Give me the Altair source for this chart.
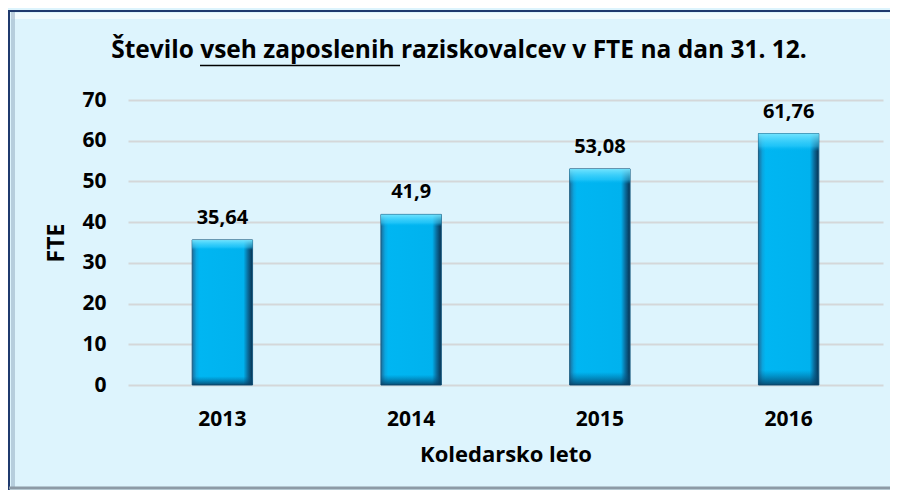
import altair as alt
import pandas as pd

years = ["2013", "2014", "2015", "2016"]
fte = [35.64, 41.9, 53.08, 61.76]
labels = ["35,64", "41,9", "53,08", "61,76"]

title_text = "Število vseh zaposlenih raziskovalcev v FTE na dan 31. 12."

df = pd.DataFrame({"leto": years, "fte": fte, "oznaka": labels})

FONT = "Open Sans"
BG = "#DDF4FD"

x_enc = alt.X("leto:N", title="Koledarsko leto", sort=years,
              scale=alt.Scale(paddingInner=0.68, paddingOuter=0.34),
              axis=alt.Axis(labelAngle=0, labelFontSize=21, labelFontWeight="bold",
                            labelPadding=23, titleFontSize=22, titleFontWeight="bold",
                            titlePadding=15, domain=False, ticks=False, grid=False,
                            labelColor="#000", titleColor="#000", labelFont=FONT, titleFont=FONT))
y_enc = alt.Y("fte:Q", title="FTE",
              scale=alt.Scale(domain=[0, 70], nice=False),
              axis=alt.Axis(values=[0, 10, 20, 30, 40, 50, 60, 70], labelFontSize=21,
                            labelFontWeight="bold", labelPadding=22, titleFontSize=23,
                            titleFontWeight="bold", titlePadding=13, domain=False, ticks=False,
                            grid=True, gridColor="#D4D7D9", gridWidth=2,
                            labelColor="#000", titleColor="#000", labelFont=FONT, titleFont=FONT))

h_grad = alt.Gradient(
    gradient="linear", x1=0, x2=1, y1=0, y2=0,
    stops=[
        alt.GradientStop(offset=0, color="#1B6E9C"),
        alt.GradientStop(offset=0.07, color="#0AA6E0"),
        alt.GradientStop(offset=0.12, color="#00B6F2"),
        alt.GradientStop(offset=0.85, color="#00B2EE"),
        alt.GradientStop(offset=0.92, color="#0A6E9E"),
        alt.GradientStop(offset=1, color="#06304F"),
    ])
v_grad = alt.Gradient(
    gradient="linear", x1=0, x2=0, y1=0, y2=1,
    stops=[
        alt.GradientStop(offset=0, color="rgba(120,230,255,0.95)"),
        alt.GradientStop(offset=0.05, color="rgba(60,210,255,0.5)"),
        alt.GradientStop(offset=0.07, color="rgba(0,180,240,0)"),
        alt.GradientStop(offset=0.94, color="rgba(0,90,140,0)"),
        alt.GradientStop(offset=1, color="rgba(8,60,95,0.85)"),
    ])

base = alt.Chart(df)
bars = base.mark_bar(fill=h_grad, stroke="#1C5C82", strokeWidth=1).encode(x=x_enc, y=y_enc)
bevel = base.mark_bar(fill=v_grad).encode(x="leto:N", y="fte:Q")
text = base.mark_text(dy=-16, baseline="alphabetic", fontSize=20, fontWeight="bold",
                      font=FONT, color="#000").encode(x="leto:N", y="fte:Q", text="oznaka:N")

one = alt.Data(values=[{"t": title_text}])
title = alt.Chart(one).mark_text(fontSize=24.5, fontWeight="bold", font=FONT, color="#000",
                                 baseline="alphabetic", align="center").encode(
    x=alt.value(331), y=alt.value(-42), text="t:N")
underline = alt.Chart(one).mark_rule(color="#000", strokeWidth=1.5).encode(
    x=alt.value(72), x2=alt.value(272), y=alt.value(-34.5))

frame_top = alt.Chart(one).mark_rule(color="#1F3A6E", strokeWidth=2).encode(
    x=alt.value(-120), x2=alt.value(770), y=alt.value(-89))
frame_top_hi = alt.Chart(one).mark_rule(color="#FFFFFF", strokeWidth=6, opacity=0.6).encode(
    x=alt.value(-117), x2=alt.value(770), y=alt.value(-84))
frame_left = alt.Chart(one).mark_rule(color="#1F3A6E", strokeWidth=2).encode(
    x=alt.value(-119), y=alt.value(-90), y2=alt.value(390))
frame_left_sh = alt.Chart(one).mark_rule(color="#9DB4C8", strokeWidth=4, opacity=0.6).encode(
    x=alt.value(-115), y=alt.value(-88), y2=alt.value(388))
frame_bottom = alt.Chart(one).mark_rule(color="#8C9AA6", strokeWidth=3).encode(
    x=alt.value(-119), x2=alt.value(770), y=alt.value(388))

chart = alt.layer(
    frame_top_hi, frame_left_sh, bars, bevel, text, title, underline,
    frame_top, frame_left, frame_bottom
).properties(
    width=755, height=285,
    background=BG,
    padding={"left": 120, "top": 92, "right": 7, "bottom": 105},
    autosize=alt.AutoSizeParams(type="none"),
).configure_view(stroke=None).configure_text(font=FONT)

chart.save("out.html", embed_options={"renderer": "svg", "actions": False})
